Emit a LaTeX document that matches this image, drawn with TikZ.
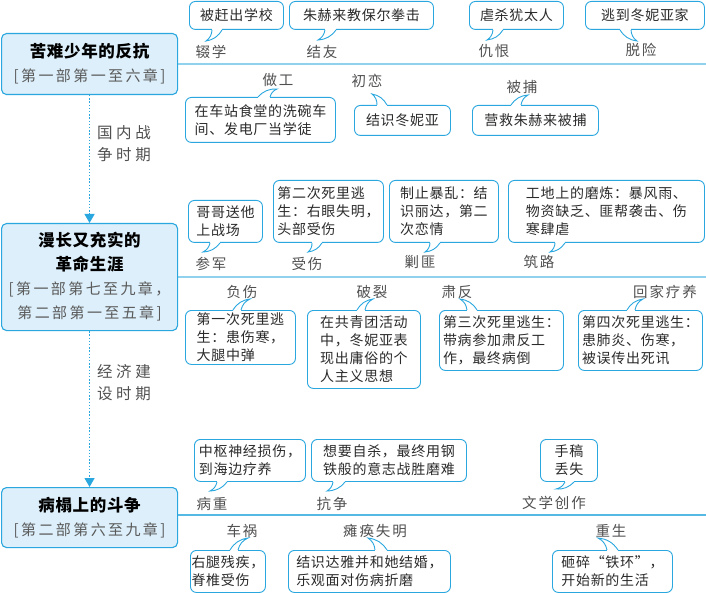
\documentclass[tikz,border=0pt]{standalone}
\usepackage{fontspec}
\setmainfont{Noto Sans CJK SC}
\newfontfamily\bubf[LetterSpace=5]{Noto Sans CJK SC}
\newfontfamily\labf[LetterSpace=13]{Noto Sans CJK SC}
\newfontfamily\subf[LetterSpace=16]{Noto Sans CJK SC}
\newfontfamily\titf[LetterSpace=4]{Noto Sans CJK SC}
\newfontfamily\perf[LetterSpace=24]{Noto Sans CJK SC}
\usetikzlibrary{arrows.meta,calc}

\definecolor{cyanline}{HTML}{2AA7DF}
\definecolor{stagefill}{HTML}{DCEFFA}
\definecolor{spineblue}{HTML}{55B9E4}
\definecolor{labgray}{HTML}{505050}
\definecolor{subgray}{HTML}{5A5A5A}
\definecolor{bubtext}{HTML}{2B2B2B}

\newcommand{\ttl}[1]{{\titf\bfseries\fontsize{16.5}{24}\selectfont\color{black}#1}}
% speech-bubble tails: node, base offsets from the corner, tip, bends
\newcommand{\tailS}[6]{%
  \fill[white] ($(#1.south west)+(#2,-3)$) rectangle ($(#1.south west)+(#3,0.5)$);
  \filldraw[tailline] ($(#1.south west)+(#2,0)$) to[bend #5=25] (#4) to[bend #6=25] ($(#1.south west)+(#3,0)$);}
\newcommand{\tailN}[6]{%
  \fill[white] ($(#1.north west)+(#2,3)$) rectangle ($(#1.north west)+(#3,-0.5)$);
  \filldraw[tailline] ($(#1.north west)+(#2,0)$) to[bend #5=25] (#4) to[bend #6=25] ($(#1.north west)+(#3,0)$);}

\begin{document}
\begin{tikzpicture}[x=1pt, y=-1pt,
  stage/.style={draw=cyanline, fill=stagefill, line width=1.1pt, rounded corners=5pt,
    anchor=north west, align=center, minimum width=176, inner sep=2pt,
    font=\subf\fontsize{15}{24}\selectfont, text=subgray},
  bub/.style={draw=cyanline, fill=white, line width=0.9pt, rounded corners=6pt,
    anchor=north west, align=left, inner sep=1pt,
    font=\bubf\fontsize{14}{18}\selectfont, text=bubtext},
  lab/.style={font=\labf\fontsize{14.5}{17}\selectfont, text=labgray, inner sep=0pt},
  per/.style={font=\perf\fontsize{15.5}{22}\selectfont, text=labgray, align=left},
  spine/.style={draw=spineblue, line width=1.3pt},
  period/.style={draw=cyanline, line width=1.4pt, dash pattern=on 1.4pt off 1.8pt,
    -{Triangle[length=9pt,width=10pt]}},
  tailline/.style={draw=cyanline, fill=white, line width=0.9pt}]
\useasboundingbox (0,0) rectangle (706,593);

% stage 1
\node[stage, minimum height=61] (s1) at (1,33) {\ttl{苦难少年的反抗}\\{}[第一部第一至六章]};
\coordinate (e1) at (706,64);
\draw[spine] (s1.east) -- (e1);

\node[lab] (chuoxue) at (211,52) {辍学};
\node[lab] (jieyou) at (322,52) {结友};
\node[lab] (chouhen) at (494,51) {仇恨};
\node[lab] (tuoxian) at (641,50) {脱险};
\node[lab] (zuogong) at (278,80) {做工};
\node[lab] (chulian) at (367,81) {初恋};
\node[lab] (beibu) at (522,87) {被捕};

\node[bub, minimum width=94, minimum height=28] (bChuo) at (189,1) {被赶出学校};
\node[bub, minimum width=144, minimum height=28] (bJie) at (289,1) {朱赫来教保尔拳击};
\node[bub, minimum width=94, minimum height=28] (bChou) at (469,1) {虐杀犹太人};
\node[bub, minimum width=119, minimum height=28] (bTuo) at (585,1) {逃到冬妮亚家};
\node[bub, minimum width=150, minimum height=45] (bZuo) at (185,97) {在车站食堂的洗碗车\\间、发电厂当学徒};
\node[bub, minimum width=96, minimum height=30] (bLian) at (354,105) {结识冬妮亚};
\node[bub, minimum width=126, minimum height=30] (bBu) at (472,105) {营救朱赫来被捕};

\coordinate (tChuo) at (206,41);
\coordinate (tJie) at (318,40);
\coordinate (tChou) at (487,40);
\coordinate (tTuo) at (637,41);
\coordinate (tZuo) at (277,89);
\coordinate (tLian) at (372,94);
\coordinate (tBu) at (528,95);
\tailS{bChuo}{23}{33}{tChuo}{left}{right}
\tailS{bJie}{36}{47}{tJie}{left}{right}
\tailS{bChou}{24}{34}{tChou}{left}{right}
\tailS{bTuo}{35}{46}{tTuo}{right}{left}
\tailN{bZuo}{73}{85}{tZuo}{left}{right}
\tailN{bLian}{23}{33}{tLian}{right}{left}
\tailN{bBu}{39}{49}{tBu}{left}{right}

\node[per] (per1) at (124,144) {国内战\\争时期};

% stage 2
\node[stage, minimum height=107] (s2) at (1,223)
  {\ttl{漫长又充实的}\\\ttl{革命生涯}\\{}[第一部第七至九章，\\第二部第一至五章]};
\draw[period] (s1.south) -- (s2.north);
\coordinate (e2) at (706,277);
\draw[spine] (s2.east) -- (e2);

\node[lab] (canjun) at (211,264) {参军};
\node[lab] (shoushang) at (307,264) {受伤};
\node[lab] (jiaofei) at (420,262) {剿匪};
\node[lab] (zhulu) at (539,262) {筑路};
\node[lab] (fushang) at (242,292) {负伤};
\node[lab] (polie) at (372,292) {破裂};
\node[lab] (sufan) at (457,292) {肃反};
\node[lab] (huijia) at (665,292) {回家疗养};

\node[bub, minimum width=74, minimum height=42] (bCan) at (188,200) {哥哥送他\\上战场};
\node[bub, minimum width=110, minimum height=62] (bShou) at (273,180) {第二次死里逃\\生：右眼失明，\\头部受伤};
\node[bub, minimum width=109, minimum height=62] (bJiao) at (389,180) {制止暴乱：结\\识丽达，第二\\次恋情};
\node[bub, minimum width=196, minimum height=62] (bZhu) at (508,180) {工地上的磨炼：暴风雨、\\物资缺乏、匪帮袭击、伤\\寒肆虐};
\node[bub, minimum width=110, minimum height=54] (bFu) at (185,310) {第一次死里逃\\生：患伤寒，\\大腿中弹};
\node[bub, minimum width=113, minimum height=78] (bPo) at (307,310) {在共青团活动\\中，冬妮亚表\\现出庸俗的个\\人主义思想};
\node[bub, minimum width=124, minimum height=60] (bSu) at (439,310) {第三次死里逃生：\\带病参加肃反工\\作，最终病倒};
\node[bub, minimum width=124, minimum height=60] (bHui) at (578,310) {第四次死里逃生：\\患肺炎、伤寒，\\被误传出死讯};

\coordinate (tCan) at (203,252);
\coordinate (tShou) at (308,252);
\coordinate (tJiao) at (425,252);
\coordinate (tZhu) at (550,252);
\coordinate (tFu) at (250,299);
\coordinate (tPo) at (373,299);
\coordinate (tSu) at (460,299);
\coordinate (tHui) at (643,299);
\tailS{bCan}{22}{32}{tCan}{left}{right}
\tailS{bShou}{39}{49}{tShou}{left}{right}
\tailS{bJiao}{41}{51}{tJiao}{left}{right}
\tailS{bZhu}{47}{57}{tZhu}{left}{right}
\tailN{bFu}{48}{56}{tFu}{left}{right}
\tailN{bPo}{50}{58}{tPo}{left}{right}
\tailN{bSu}{28}{38}{tSu}{right}{left}
\tailN{bHui}{49}{57}{tHui}{left}{right}

\node[per] (per2) at (124,383) {经济建\\设时期};

% stage 3
\node[stage, minimum height=60] (s3) at (1,487) {\ttl{病榻上的斗争}\\{}[第二部第六至九章]};
\draw[period] (s2.south) -- (s3.north);
\coordinate (e3) at (706,515);
\draw[spine] (s3.east |- e3) -- (e3);

\node[lab] (bingzhong) at (212,504) {病重};
\node[lab] (kangzheng) at (332,504) {抗争};
\node[lab] (wenxue) at (554,503) {文学创作};
\node[lab] (chehuo) at (242,531) {车祸};
\node[lab] (tanhuan) at (375,531) {瘫痪失明};
\node[lab] (chongsheng) at (611,531) {重生};

\node[bub, minimum width=111, minimum height=42] (bBing) at (194,439) {中枢神经损伤，\\到海边疗养};
\node[bub, minimum width=155, minimum height=42] (bKang) at (311,439) {想要自杀，最终用钢\\铁般的意志战胜磨难};
\node[bub, minimum width=57, minimum height=42, align=center] (bWen) at (540,439) {手稿\\丢失};
\node[bub, minimum width=75, minimum height=42] (bChe) at (190,550) {右腿残疾，\\脊椎受伤};
\node[bub, minimum width=162, minimum height=42] (bTan) at (288,550) {结识达雅并和她结婚，\\乐观面对伤病折磨};
\node[bub, minimum width=120, minimum height=42] (bChong) at (552,550) {砸碎“铁环”，\\开始新的生活};

\coordinate (tBing) at (210,491);
\coordinate (tKang) at (327,491);
\coordinate (tWen) at (556,489);
\coordinate (tChe) at (248,538);
\coordinate (tTan) at (368,538);
\coordinate (tChong) at (598,538);
\tailS{bBing}{23}{33}{tBing}{left}{right}
\tailS{bKang}{22}{34}{tKang}{left}{right}
\tailS{bWen}{25}{34}{tWen}{left}{right}
\tailN{bChe}{40}{48}{tChe}{left}{right}
\tailN{bTan}{87}{99}{tTan}{right}{left}
\tailN{bChong}{55}{66}{tChong}{right}{left}
\end{tikzpicture}
\end{document}
